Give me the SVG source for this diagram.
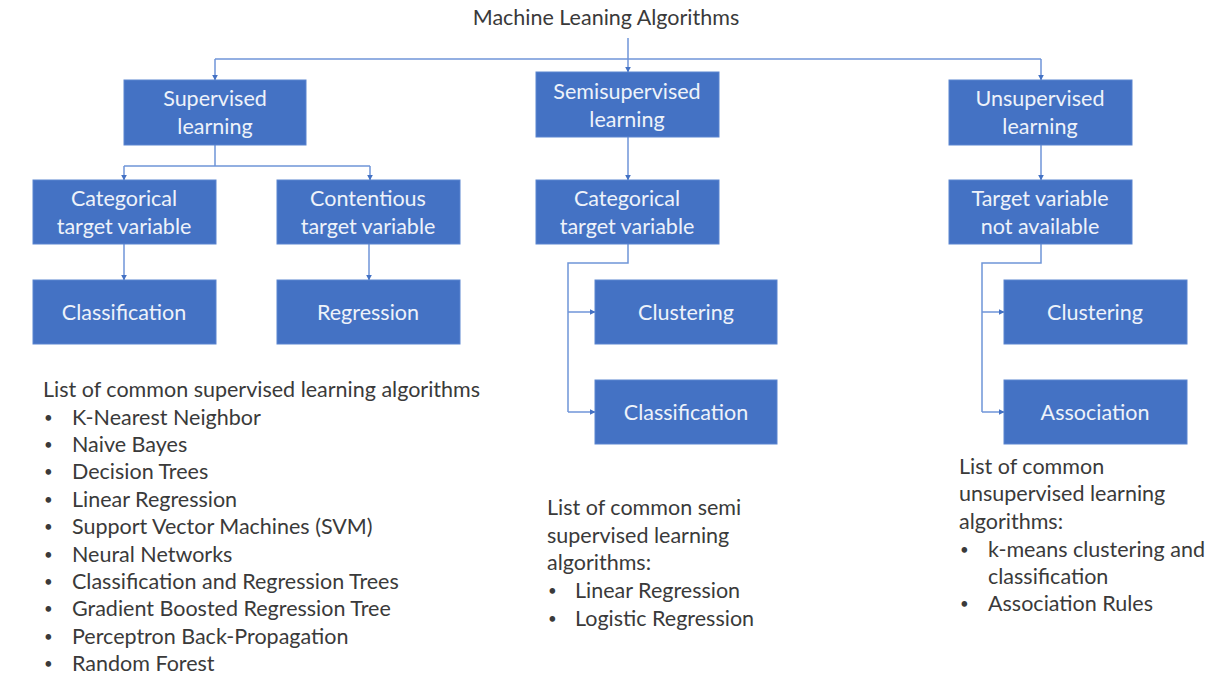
<svg xmlns="http://www.w3.org/2000/svg" width="1211" height="675" viewBox="0 0 1211 675">
<defs>
<marker id="ah" viewBox="0 0 10 10" refX="9" refY="5" markerWidth="6" markerHeight="6" markerUnits="userSpaceOnUse" orient="auto">
<path d="M0,0 L10,5 L0,10 z" fill="#4472c4"/>
</marker>
<style>
.box{fill:#4472c4;stroke:#5b85d0;stroke-width:1}
.bt{font-family:Lato,"Open Sans",sans-serif;font-size:21.5px;fill:#eef2fa;text-anchor:middle}
.cn{fill:none;stroke:#6f95d8;stroke-width:1.5}
.tx{font-family:Lato,"Open Sans",sans-serif;font-size:21.5px;fill:#3a3a3a}
.bu{font-size:15px}
</style>
</defs>
<rect width="1211" height="675" fill="#ffffff"/>
<text id="title" class="tx" x="606" y="25" text-anchor="middle" fill="#262626">Machine Leaning Algorithms</text>
<g id="connectors">
<path class="cn" d="M628,38 V72" marker-end="url(#ah)"/>
<path class="cn" d="M215,59 H1041"/>
<path class="cn" d="M215,59 V80" marker-end="url(#ah)"/>
<path class="cn" d="M1041,59 V80" marker-end="url(#ah)"/>
<path class="cn" d="M215,145 V166 M124,166 H370"/>
<path class="cn" d="M124,166 V180" marker-end="url(#ah)"/>
<path class="cn" d="M370,166 V180" marker-end="url(#ah)"/>
<path class="cn" d="M124,244 V280" marker-end="url(#ah)"/>
<path class="cn" d="M369,244 V280" marker-end="url(#ah)"/>
<path class="cn" d="M628,137 V180" marker-end="url(#ah)"/>
<path class="cn" d="M628,244 V263 H568 V412"/>
<path class="cn" d="M568,312 H595" marker-end="url(#ah)"/>
<path class="cn" d="M568,412 H595" marker-end="url(#ah)"/>
<path class="cn" d="M1041,145 V180" marker-end="url(#ah)"/>
<path class="cn" d="M1041,244 V263 H982 V412"/>
<path class="cn" d="M982,312 H1004" marker-end="url(#ah)"/>
<path class="cn" d="M982,412 H1004" marker-end="url(#ah)"/>
</g>
<g id="supervised"><rect class="box" x="124" y="80" width="182" height="65"/><text class="bt" x="215" y="106">Supervised</text><text class="bt" x="215" y="134">learning</text></g>
<g id="semisupervised"><rect class="box" x="536" y="72" width="183" height="65"/><text class="bt" x="627" y="99">Semisupervised</text><text class="bt" x="627" y="127">learning</text></g>
<g id="unsupervised"><rect class="box" x="949" y="80" width="183" height="65"/><text class="bt" x="1040" y="106">Unsupervised</text><text class="bt" x="1040" y="134">learning</text></g>
<g id="cat1"><rect class="box" x="33" y="180" width="183" height="64"/><text class="bt" x="124" y="206">Categorical</text><text class="bt" x="124" y="234">target variable</text></g>
<g id="cont"><rect class="box" x="277" y="180" width="183" height="64"/><text class="bt" x="368" y="206">Contentious</text><text class="bt" x="368" y="234">target variable</text></g>
<g id="cat2"><rect class="box" x="536" y="180" width="183" height="64"/><text class="bt" x="627" y="206">Categorical</text><text class="bt" x="627" y="234">target variable</text></g>
<g id="target"><rect class="box" x="949" y="180" width="183" height="64"/><text class="bt" x="1040" y="206">Target variable</text><text class="bt" x="1040" y="234">not available</text></g>
<g id="classif1"><rect class="box" x="33" y="280" width="183" height="64"/><text class="bt" x="124" y="320">Classification</text></g>
<g id="regression"><rect class="box" x="277" y="280" width="183" height="64"/><text class="bt" x="368" y="320">Regression</text></g>
<g id="clust1"><rect class="box" x="595" y="280" width="182" height="64"/><text class="bt" x="686" y="320">Clustering</text></g>
<g id="classif2"><rect class="box" x="595" y="380" width="182" height="64"/><text class="bt" x="686" y="420">Classification</text></g>
<g id="clust2"><rect class="box" x="1004" y="280" width="183" height="64"/><text class="bt" x="1095" y="320">Clustering</text></g>
<g id="assoc"><rect class="box" x="1004" y="380" width="183" height="64"/><text class="bt" x="1095" y="420">Association</text></g>
<g id="suplist" class="tx">
<text x="43" y="397">List of common supervised learning algorithms</text>
<text class="bu" x="44" y="423">•</text><text x="72" y="425">K-Nearest Neighbor</text>
<text class="bu" x="44" y="450">•</text><text x="72" y="452">Naive Bayes</text>
<text class="bu" x="44" y="477">•</text><text x="72" y="479">Decision Trees</text>
<text class="bu" x="44" y="505">•</text><text x="72" y="507">Linear Regression</text>
<text class="bu" x="44" y="532">•</text><text x="72" y="534">Support Vector Machines (SVM)</text>
<text class="bu" x="44" y="560">•</text><text x="72" y="562">Neural Networks</text>
<text class="bu" x="44" y="587">•</text><text x="72" y="589">Classification and Regression Trees</text>
<text class="bu" x="44" y="614">•</text><text x="72" y="616">Gradient Boosted Regression Tree</text>
<text class="bu" x="44" y="642">•</text><text x="72" y="644">Perceptron Back-Propagation</text>
<text class="bu" x="44" y="669">•</text><text x="72" y="671">Random Forest</text>
</g>
<g id="semilist" class="tx">
<text x="547" y="515">List of common semi</text>
<text x="547" y="543">supervised learning</text>
<text x="547" y="570">algorithms:</text>
<text class="bu" x="548" y="596">•</text><text x="575" y="598">Linear Regression</text>
<text class="bu" x="548" y="624">•</text><text x="575" y="626">Logistic Regression</text>
</g>
<g id="unsuplist" class="tx">
<text x="959" y="474">List of common</text>
<text x="959" y="501">unsupervised learning</text>
<text x="959" y="529">algorithms:</text>
<text class="bu" x="960" y="555">•</text><text x="988" y="557">k-means clustering and</text>
<text x="988" y="584">classification</text>
<text class="bu" x="960" y="609">•</text><text x="988" y="611">Association Rules</text>
</g>
</svg>
